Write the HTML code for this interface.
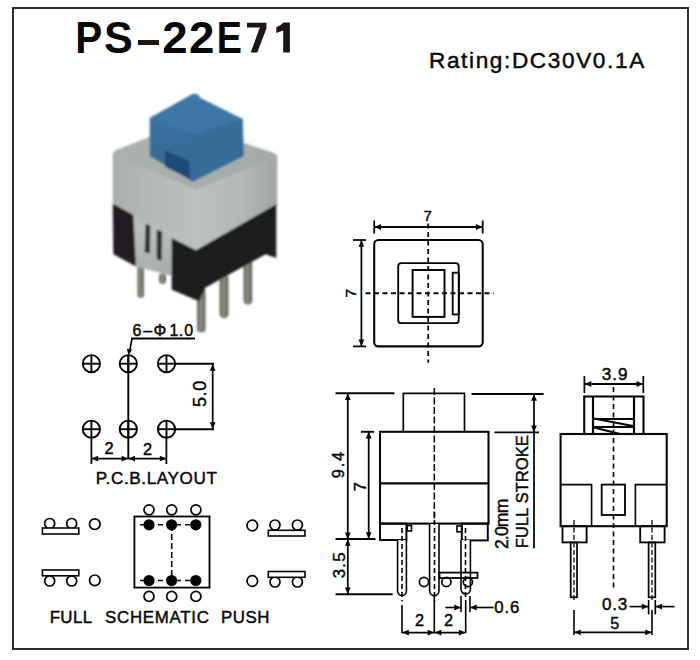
<!DOCTYPE html>
<html><head><meta charset="utf-8"><style>
html,body{margin:0;padding:0;background:#fff;}
body{width:700px;height:660px;overflow:hidden;}
svg{display:block;}
text{font-family:"Liberation Sans",sans-serif;fill:#080808;}
</style></head><body>
<svg width="700" height="660" viewBox="0 0 700 660">
<rect x="13" y="8" width="675" height="641" fill="none" stroke="#302c29" stroke-width="2"/>
<text transform="translate(75.24,52.6) scale(0.920,1)" x="0" y="0" font-size="44" font-weight="bold" fill="#1c1714">P</text>
<text transform="translate(104.04,52.6) scale(0.981,1)" x="0" y="0" font-size="44" font-weight="bold" fill="#1c1714">S</text>
<text transform="translate(162.22,52.6) scale(1.038,1)" x="0" y="0" font-size="44" font-weight="bold" fill="#1c1714">2</text>
<text transform="translate(188.92,52.6) scale(1.038,1)" x="0" y="0" font-size="44" font-weight="bold" fill="#1c1714">2</text>
<text transform="translate(216.73,52.6) scale(0.858,1)" x="0" y="0" font-size="44" font-weight="bold" fill="#1c1714">E</text>
<rect x="138" y="40" width="21" height="5" fill="#1c1714"/>
<polygon points="247,22.7 266.4,22.7 266.4,28.6 257.3,52.6 250.7,52.6 259.8,27.6 247,27.6" fill="#1c1714"/>
<polygon points="276.3,27.3 280.5,25 283.5,22.6 289.9,22.6 289.9,52.6 283.2,52.6 283.2,30.4 276.3,32.9" fill="#1c1714"/>
<text x="429.0" y="68.1" font-size="22.6" text-anchor="start" font-weight="normal" letter-spacing="1.62" stroke="#080808" stroke-width="0.45">Rating:DC30V0.1A</text>
<defs>
<linearGradient id="gtop" x1="0" y1="0" x2="1" y2="0"><stop offset="0" stop-color="#aab1b0"/><stop offset="1" stop-color="#a4aba9"/></linearGradient>
<linearGradient id="gmid" gradientUnits="userSpaceOnUse" x1="0" y1="236" x2="0" y2="276"><stop offset="0" stop-color="#b7bdbc"/><stop offset="1" stop-color="#a5acaa"/></linearGradient>
<linearGradient id="gl" x1="0" y1="0" x2="1" y2="0"><stop offset="0" stop-color="#a8aead"/><stop offset="0.6" stop-color="#b5bcba"/><stop offset="1" stop-color="#bac1c0"/></linearGradient>
<linearGradient id="gr" x1="0" y1="0" x2="1" y2="0"><stop offset="0" stop-color="#bcc2c1"/><stop offset="0.6" stop-color="#b1b8b6"/><stop offset="1" stop-color="#a0a6a5"/></linearGradient>
<linearGradient id="pin" x1="0" y1="0" x2="1" y2="0"><stop offset="0" stop-color="#62625a"/><stop offset="0.45" stop-color="#8e8e84"/><stop offset="1" stop-color="#5e5e56"/></linearGradient>
<linearGradient id="capl" x1="0" y1="0" x2="0" y2="1"><stop offset="0" stop-color="#3b719f"/><stop offset="1" stop-color="#356894"/></linearGradient>
<filter id="bl" x="-5%" y="-5%" width="110%" height="110%"><feGaussianBlur stdDeviation="0.85"/></filter>
</defs>
<g filter="url(#bl)">
<rect x="137.5" y="264" width="6.5" height="34" rx="3" fill="url(#pin)"/>
<rect x="159" y="273" width="7" height="11" rx="3.5" fill="url(#pin)"/>
<rect x="197" y="288" width="8.5" height="44.5" rx="4" fill="url(#pin)"/>
<rect x="219.5" y="274" width="9" height="44.3" rx="4.5" fill="url(#pin)"/>
<rect x="243.5" y="258" width="8.7" height="46.7" rx="4.3" fill="url(#pin)"/>
<path d="M113,156 Q113,151 117,150 L150,137 L243,143 L273,153 Q277,154 277,158 L196,190 Z" fill="url(#gtop)" stroke="url(#gtop)" stroke-width="0.6"/>
<path d="M113,156 L196,190 L196,251 L172,238 L172,276 L135,266 L133,215 L113,204 Z" fill="url(#gl)" stroke="url(#gl)" stroke-width="0.6"/>
<polygon points="133,214 172.5,236 172.5,275 162,272 137,264 133.7,255" fill="url(#gmid)"/>
<path d="M196,190 L277,158 L277,206 L196,251 Z" fill="url(#gr)" stroke="url(#gr)" stroke-width="0.6"/>
<polygon points="113,204 133,215 135.6,266 113.6,254" fill="#231d20" stroke="#231d20" stroke-width="0.6"/>
<polygon points="146,224 150,226 149.5,253 145,252" fill="#2e2a2a" stroke="#2e2a2a" stroke-width="0.6"/>
<polygon points="157,230.2 161.8,231.8 161.3,260.4 157,258.8" fill="#2e2a2a" stroke="#2e2a2a" stroke-width="0.6"/>
<polygon points="172,238.5 196,250.5 276,204.7 276,257.5 265.5,254 205,287.5 199,301 172,289.4" fill="#1f1a1c" stroke="#1f1a1c" stroke-width="0.6"/>
<polygon points="150,118 193,94 198,94.5 200,98 236,116 242.5,119 193,134" fill="#3e77a6" stroke="#3e77a6" stroke-width="0.6"/>
<polygon points="150,118 193,134 193,181.5 150,156" fill="url(#capl)" stroke="url(#capl)" stroke-width="0.6"/>
<polygon points="193,134 242.5,119 243.5,156 193,181.5" fill="#366d98" stroke="#366d98" stroke-width="0.6"/>
<polygon points="165,150 189,161 190,179 165,167" fill="#17436e" opacity="0.75"/>
</g>

<circle cx="91.4" cy="363.7" r="8.6" fill="none" stroke="#050505" stroke-width="1.95"/>
<line x1="82.80000000000001" y1="363.7" x2="100.0" y2="363.7" stroke="#050505" stroke-width="1.89"/>
<line x1="91.4" y1="355.09999999999997" x2="91.4" y2="372.3" stroke="#050505" stroke-width="1.89"/>
<circle cx="128.3" cy="363.7" r="8.6" fill="none" stroke="#050505" stroke-width="1.95"/>
<line x1="119.70000000000002" y1="363.7" x2="136.9" y2="363.7" stroke="#050505" stroke-width="1.89"/>
<line x1="128.3" y1="355.09999999999997" x2="128.3" y2="372.3" stroke="#050505" stroke-width="1.89"/>
<circle cx="166.5" cy="363.7" r="8.6" fill="none" stroke="#050505" stroke-width="1.95"/>
<line x1="157.9" y1="363.7" x2="175.1" y2="363.7" stroke="#050505" stroke-width="1.89"/>
<line x1="166.5" y1="355.09999999999997" x2="166.5" y2="372.3" stroke="#050505" stroke-width="1.89"/>
<circle cx="91.4" cy="429.2" r="8.6" fill="none" stroke="#050505" stroke-width="1.95"/>
<line x1="82.80000000000001" y1="429.2" x2="100.0" y2="429.2" stroke="#050505" stroke-width="1.89"/>
<line x1="91.4" y1="420.59999999999997" x2="91.4" y2="437.8" stroke="#050505" stroke-width="1.89"/>
<circle cx="128.3" cy="429.2" r="8.6" fill="none" stroke="#050505" stroke-width="1.95"/>
<line x1="119.70000000000002" y1="429.2" x2="136.9" y2="429.2" stroke="#050505" stroke-width="1.89"/>
<line x1="128.3" y1="420.59999999999997" x2="128.3" y2="437.8" stroke="#050505" stroke-width="1.89"/>
<circle cx="166.5" cy="429.2" r="8.6" fill="none" stroke="#050505" stroke-width="1.95"/>
<line x1="157.9" y1="429.2" x2="175.1" y2="429.2" stroke="#050505" stroke-width="1.89"/>
<line x1="166.5" y1="420.59999999999997" x2="166.5" y2="437.8" stroke="#050505" stroke-width="1.89"/>
<text x="132.6 143.2 153.6 169.6 178.7 184.2" y="335.7" font-size="16" stroke="#080808" stroke-width="0.45">6&#8211;&#934;1.0</text>
<line x1="131" y1="338.5" x2="195" y2="338.5" stroke="#050505" stroke-width="1.76"/>
<line x1="132" y1="338.5" x2="129.5" y2="352" stroke="#050505" stroke-width="1.62"/>
<polygon points="128.5,355.5 126.89,348.69 132.04,349.46" fill="#050505"/>
<line x1="128.3" y1="355" x2="128.3" y2="458.6" stroke="#050505" stroke-width="1.89"/>
<line x1="175" y1="363.7" x2="214" y2="363.7" stroke="#050505" stroke-width="1.89"/>
<line x1="175" y1="429.2" x2="214" y2="429.2" stroke="#050505" stroke-width="1.89"/>
<line x1="212.7" y1="364" x2="212.7" y2="429" stroke="#050505" stroke-width="1.76"/>
<polygon points="212.7,364.2 215.60,370.70 209.80,370.70" fill="#050505"/>
<polygon points="212.7,428.7 209.80,422.20 215.60,422.20" fill="#050505"/>
<text x="206.0" y="407.0" font-size="17.86" text-anchor="start" font-weight="normal" transform="rotate(-90 206.0 407.0)" letter-spacing="0.65" stroke="#080808" stroke-width="0.45">5.0</text>
<line x1="91.4" y1="437.8" x2="91.4" y2="464" stroke="#050505" stroke-width="1.76"/>
<line x1="166.4" y1="437.8" x2="166.4" y2="464" stroke="#050505" stroke-width="1.76"/>
<line x1="91.4" y1="458.6" x2="166.4" y2="458.6" stroke="#050505" stroke-width="1.76"/>
<polygon points="91.6,458.6 98.10,455.70 98.10,461.50" fill="#050505"/>
<polygon points="128.1,458.6 121.60,461.50 121.60,455.70" fill="#050505"/>
<polygon points="128.5,458.6 135.00,455.70 135.00,461.50" fill="#050505"/>
<polygon points="166.3,458.6 159.80,461.50 159.80,455.70" fill="#050505"/>
<text x="104.5" y="453.9" font-size="16.43" text-anchor="start" font-weight="normal" stroke="#080808" stroke-width="0.45">2</text>
<text x="142.9" y="455.0" font-size="16.29" text-anchor="start" font-weight="normal" stroke="#080808" stroke-width="0.45">2</text>
<text x="95.75" y="484.3" font-size="17.14" text-anchor="start" font-weight="normal" letter-spacing="0.6" stroke="#080808" stroke-width="0.45">P.C.B.LAYOUT</text>
<circle cx="49.7" cy="523.5" r="5" fill="none" stroke="#050505" stroke-width="1.72"/>
<circle cx="71.7" cy="523.5" r="5" fill="none" stroke="#050505" stroke-width="1.72"/>
<rect x="42.4" y="528" width="36.4" height="6" fill="#fff" stroke="#050505" stroke-width="1.6"/>
<circle cx="94.8" cy="524.2" r="5.3" fill="none" stroke="#050505" stroke-width="1.72"/>
<circle cx="49.7" cy="581" r="5" fill="none" stroke="#050505" stroke-width="1.72"/>
<circle cx="71.7" cy="581" r="5" fill="none" stroke="#050505" stroke-width="1.72"/>
<rect x="42.4" y="570" width="36.4" height="5.7999999999999545" fill="#fff" stroke="#050505" stroke-width="1.6"/>
<circle cx="94.8" cy="580.3" r="5.3" fill="none" stroke="#050505" stroke-width="1.72"/>
<circle cx="275" cy="525" r="5" fill="none" stroke="#050505" stroke-width="1.72"/>
<circle cx="297.4" cy="525" r="5" fill="none" stroke="#050505" stroke-width="1.72"/>
<rect x="268.3" y="530.3" width="36.69999999999999" height="5.7000000000000455" fill="#fff" stroke="#050505" stroke-width="1.6"/>
<circle cx="252.3" cy="525.5" r="5.3" fill="none" stroke="#050505" stroke-width="1.72"/>
<circle cx="275" cy="582" r="5" fill="none" stroke="#050505" stroke-width="1.72"/>
<circle cx="297.4" cy="582" r="5" fill="none" stroke="#050505" stroke-width="1.72"/>
<rect x="268.3" y="571.5" width="36.69999999999999" height="5.7999999999999545" fill="#fff" stroke="#050505" stroke-width="1.6"/>
<circle cx="252.3" cy="581" r="5.3" fill="none" stroke="#050505" stroke-width="1.72"/>
<rect x="134.4" y="516.5" width="75.10" height="71.10" rx="0" fill="none" stroke="#050505" stroke-width="1.84"/>
<circle cx="149" cy="509.8" r="5" fill="none" stroke="#050505" stroke-width="1.72"/>
<circle cx="149" cy="596.4" r="5" fill="none" stroke="#050505" stroke-width="1.72"/>
<circle cx="171.7" cy="509.8" r="5" fill="none" stroke="#050505" stroke-width="1.72"/>
<circle cx="171.7" cy="596.4" r="5" fill="none" stroke="#050505" stroke-width="1.72"/>
<circle cx="195.9" cy="509.8" r="5" fill="none" stroke="#050505" stroke-width="1.72"/>
<circle cx="195.9" cy="596.4" r="5" fill="none" stroke="#050505" stroke-width="1.72"/>
<line x1="140" y1="524.8" x2="196" y2="524.8" stroke="#050505" stroke-width="1.55" stroke-dasharray="5,4"/>
<line x1="140" y1="580.5" x2="196" y2="580.5" stroke="#050505" stroke-width="1.55" stroke-dasharray="5,4"/>
<line x1="171.7" y1="525" x2="171.7" y2="580" stroke="#050505" stroke-width="1.55" stroke-dasharray="6,3"/>
<circle cx="149" cy="524.8" r="5.6" fill="#050505"/>
<circle cx="149" cy="580.5" r="5.6" fill="#050505"/>
<circle cx="171.6" cy="524.8" r="5.6" fill="#050505"/>
<circle cx="171.6" cy="580.5" r="5.6" fill="#050505"/>
<circle cx="195.8" cy="524.8" r="5.6" fill="#050505"/>
<circle cx="195.8" cy="580.5" r="5.6" fill="#050505"/>
<text x="49.7" y="623.2" font-size="16.86" text-anchor="start" font-weight="normal" letter-spacing="0.37" stroke="#080808" stroke-width="0.45">FULL</text>
<text x="105.0" y="623.2" font-size="16.86" text-anchor="start" font-weight="normal" letter-spacing="0.73" stroke="#080808" stroke-width="0.45">SCHEMATIC</text>
<text x="221.0" y="623.2" font-size="16.86" text-anchor="start" font-weight="normal" letter-spacing="0.53" stroke="#080808" stroke-width="0.45">PUSH</text>
<rect x="374.2" y="240" width="108.50" height="106.40" rx="4.2" fill="none" stroke="#050505" stroke-width="2.07"/>
<rect x="398.2" y="263.2" width="60.50" height="60.00" rx="3" fill="none" stroke="#050505" stroke-width="1.84"/>
<rect x="412.6" y="270" width="31.90" height="46.90" rx="0" fill="none" stroke="#050505" stroke-width="1.95"/>
<rect x="452.7" y="272.7" width="6.30" height="41.70" rx="0" fill="none" stroke="#050505" stroke-width="1.84"/>
<line x1="428.2" y1="223.6" x2="428.2" y2="362.7" stroke="#050505" stroke-width="1.76" stroke-dasharray="5,3.5"/>
<line x1="365.5" y1="293.2" x2="493.6" y2="293.2" stroke="#050505" stroke-width="1.89" stroke-dasharray="5,3.5"/>
<line x1="374.2" y1="232" x2="482.7" y2="226.4" stroke="#050505" stroke-width="0.00"/>
<line x1="374.2" y1="227" x2="482.7" y2="227" stroke="#050505" stroke-width="1.76"/>
<polygon points="374.5,227 381.00,224.10 381.00,229.90" fill="#050505"/>
<polygon points="482.4,227 475.90,229.90 475.90,224.10" fill="#050505"/>
<line x1="374.2" y1="220.5" x2="374.2" y2="233.5" stroke="#050505" stroke-width="1.76"/>
<line x1="482.7" y1="220.5" x2="482.7" y2="233.5" stroke="#050505" stroke-width="1.76"/>
<text x="423.6" y="221.2" font-size="15.0" text-anchor="start" font-weight="normal" stroke="#080808" stroke-width="0.45">7</text>
<line x1="361.4" y1="240" x2="361.4" y2="346.4" stroke="#050505" stroke-width="1.76"/>
<polygon points="361.4,240.3 364.30,246.80 358.50,246.80" fill="#050505"/>
<polygon points="361.4,346.1 358.50,339.60 364.30,339.60" fill="#050505"/>
<line x1="353" y1="240" x2="366" y2="240" stroke="#050505" stroke-width="1.76"/>
<line x1="353" y1="346.4" x2="366" y2="346.4" stroke="#050505" stroke-width="1.76"/>
<text x="356.0" y="297.5" font-size="15.29" text-anchor="start" font-weight="normal" transform="rotate(-90 356.0 297.5)" stroke="#080808" stroke-width="0.45">7</text>
<line x1="335.5" y1="393.3" x2="394.5" y2="393.3" stroke="#050505" stroke-width="1.89"/>
<line x1="471.5" y1="394" x2="543.6" y2="394" stroke="#050505" stroke-width="1.89"/>
<polyline points="403.3,431.8 403.3,393.3 464.5,393.3 464.5,431.8" fill="none" stroke="#050505" stroke-width="1.7"/>
<rect x="380" y="431.8" width="108.50" height="91.80" rx="0" fill="none" stroke="#050505" stroke-width="2.07"/>
<line x1="380" y1="483.3" x2="488.5" y2="483.3" stroke="#050505" stroke-width="2.16"/>
<line x1="494.5" y1="432.4" x2="539" y2="432.4" stroke="#050505" stroke-width="1.89"/>
<line x1="534" y1="394" x2="534" y2="548.3" stroke="#050505" stroke-width="1.76"/>
<polygon points="534,394.3 536.90,400.80 531.10,400.80" fill="#050505"/>
<polygon points="534,432 531.10,425.50 536.90,425.50" fill="#050505"/>
<text x="528.3" y="548.1" font-size="16.29" text-anchor="start" font-weight="normal" transform="rotate(-90 528.3 548.1)" letter-spacing="0.23" stroke="#080808" stroke-width="0.45">FULL STROKE</text>
<text x="508.4" y="549.1" font-size="17.57" text-anchor="start" font-weight="normal" transform="rotate(-90 508.4 549.1)" letter-spacing="-0.82" stroke="#080808" stroke-width="0.45">2.0mm</text>
<line x1="347.8" y1="393.3" x2="347.8" y2="594.2" stroke="#050505" stroke-width="1.76"/>
<polygon points="347.8,393.6 350.70,400.10 344.90,400.10" fill="#050505"/>
<polygon points="347.8,539 344.90,532.50 350.70,532.50" fill="#050505"/>
<polygon points="347.8,539.3 350.70,545.80 344.90,545.80" fill="#050505"/>
<polygon points="347.8,594 344.90,587.50 350.70,587.50" fill="#050505"/>
<line x1="368.7" y1="431.8" x2="368.7" y2="539" stroke="#050505" stroke-width="1.76"/>
<polygon points="368.7,432.1 371.60,438.60 365.80,438.60" fill="#050505"/>
<polygon points="368.7,538.8 365.80,532.30 371.60,532.30" fill="#050505"/>
<line x1="361" y1="431.8" x2="374" y2="431.8" stroke="#050505" stroke-width="1.89"/>
<line x1="335.5" y1="539" x2="375.5" y2="539" stroke="#050505" stroke-width="1.89"/>
<line x1="335.5" y1="594.2" x2="392.7" y2="594.2" stroke="#050505" stroke-width="1.89"/>
<text x="344.1" y="478.3" font-size="16.43" text-anchor="start" font-weight="normal" transform="rotate(-90 344.1 478.3)" letter-spacing="1.8" stroke="#080808" stroke-width="0.45">9.4</text>
<text x="366.1" y="491.5" font-size="16.86" text-anchor="start" font-weight="normal" transform="rotate(-90 366.1 491.5)" stroke="#080808" stroke-width="0.45">7</text>
<text x="344.7" y="578.3" font-size="16.86" text-anchor="start" font-weight="normal" transform="rotate(-90 344.7 578.3)" letter-spacing="1.3" stroke="#080808" stroke-width="0.45">3.5</text>
<line x1="434.3" y1="388" x2="434.3" y2="596" stroke="#050505" stroke-width="1.49" stroke-dasharray="7,2.5"/>
<line x1="434.3" y1="596" x2="434.3" y2="633" stroke="#050505" stroke-width="1.62"/>
<rect x="380" y="523.6" width="26.40" height="16.40" rx="0" fill="none" stroke="#050505" stroke-width="1.95"/>
<rect x="407.3" y="525.5" width="4.20" height="5.50" rx="0" fill="none" stroke="#050505" stroke-width="1.61"/>
<rect x="461.8" y="523.6" width="26.00" height="16.80" rx="0" fill="none" stroke="#050505" stroke-width="1.95"/>
<rect x="457" y="526" width="4.80" height="5.80" rx="0" fill="none" stroke="#050505" stroke-width="1.61"/>
<path d="M397.6,540 L397.6,591.1 A4.399999999999977,4.399999999999977 0 0 0 406.4,591.1 L406.4,540" fill="#fff" stroke="#050505" stroke-width="1.6"/>
<line x1="402" y1="528" x2="402" y2="601.5" stroke="#050505" stroke-width="1.62" stroke-dasharray="5,3"/>
<path d="M429.6,524 L429.6,590.8 A4.699999999999989,4.699999999999989 0 0 0 439,590.8 L439,524" fill="#fff" stroke="#050505" stroke-width="1.6"/>
<line x1="434.5" y1="512" x2="434.5" y2="601.5" stroke="#050505" stroke-width="1.62" stroke-dasharray="5,3"/>
<path d="M461,540 L461,589.3 A4.699999999999989,4.699999999999989 0 0 0 470.4,589.3 L470.4,540" fill="#fff" stroke="#050505" stroke-width="1.6"/>
<line x1="465.5" y1="528" x2="465.5" y2="600" stroke="#050505" stroke-width="1.62" stroke-dasharray="5,3"/>
<rect x="439.5" y="572.6" width="38" height="5.4" fill="none" stroke="#050505" stroke-width="1.8"/>
<circle cx="424" cy="582" r="4.6" fill="none" stroke="#050505" stroke-width="1.72"/>
<circle cx="446.4" cy="582" r="4.6" fill="none" stroke="#050505" stroke-width="1.72"/>
<circle cx="467.9" cy="582" r="4.6" fill="none" stroke="#050505" stroke-width="1.72"/>
<line x1="402" y1="605" x2="402" y2="633" stroke="#050505" stroke-width="1.62"/>
<line x1="465.7" y1="600" x2="465.7" y2="633" stroke="#050505" stroke-width="1.62"/>
<line x1="402" y1="632.6" x2="465.7" y2="632.6" stroke="#050505" stroke-width="1.76"/>
<polygon points="402.3,632.6 408.80,629.70 408.80,635.50" fill="#050505"/>
<polygon points="434.2,632.6 427.70,635.50 427.70,629.70" fill="#050505"/>
<polygon points="434.8,632.6 441.30,629.70 441.30,635.50" fill="#050505"/>
<polygon points="465.4,632.6 458.90,635.50 458.90,629.70" fill="#050505"/>
<text x="415.0" y="625.5" font-size="16.29" text-anchor="start" font-weight="normal" stroke="#080808" stroke-width="0.45">2</text>
<text x="444.0" y="625.5" font-size="16.29" text-anchor="start" font-weight="normal" stroke="#080808" stroke-width="0.45">2</text>
<line x1="461" y1="596" x2="461" y2="612" stroke="#050505" stroke-width="1.62"/>
<line x1="470" y1="596" x2="470" y2="612" stroke="#050505" stroke-width="1.62"/>
<line x1="445.4" y1="607.5" x2="461" y2="607.5" stroke="#050505" stroke-width="1.62"/>
<polygon points="460.8,607.5 454.30,610.40 454.30,604.60" fill="#050505"/>
<line x1="470" y1="607.5" x2="493.6" y2="607.5" stroke="#050505" stroke-width="1.62"/>
<polygon points="470.2,607.5 476.70,604.60 476.70,610.40" fill="#050505"/>
<text x="494.25" y="612.75" font-size="16.79" text-anchor="start" font-weight="normal" letter-spacing="0.88" stroke="#080808" stroke-width="0.45">0.6</text>
<text x="601.8" y="379.5" font-size="17.14" text-anchor="start" font-weight="normal" letter-spacing="1.0" stroke="#080808" stroke-width="0.45">3.9</text>
<line x1="584.4" y1="384" x2="643.3" y2="384" stroke="#050505" stroke-width="1.76"/>
<polygon points="584.7,384 591.20,381.10 591.20,386.90" fill="#050505"/>
<polygon points="643,384 636.50,386.90 636.50,381.10" fill="#050505"/>
<line x1="584.4" y1="376" x2="584.4" y2="393" stroke="#050505" stroke-width="1.76"/>
<line x1="643.3" y1="376" x2="643.3" y2="393" stroke="#050505" stroke-width="1.76"/>
<rect x="584.2" y="396.5" width="59.30" height="37.50" rx="0" fill="none" stroke="#050505" stroke-width="2.07"/>
<line x1="593" y1="396.5" x2="593" y2="434" stroke="#050505" stroke-width="2.16"/>
<line x1="634" y1="396.5" x2="634" y2="434" stroke="#050505" stroke-width="2.16"/>
<line x1="593" y1="419" x2="634" y2="419" stroke="#050505" stroke-width="1.89"/>
<line x1="593" y1="427" x2="634" y2="427" stroke="#050505" stroke-width="1.89"/>
<line x1="594" y1="418.5" x2="633" y2="426" stroke="#050505" stroke-width="2.16"/>
<line x1="594" y1="427.5" x2="620" y2="434" stroke="#050505" stroke-width="2.16"/>
<rect x="560.6" y="434" width="106.10" height="92.20" rx="0" fill="none" stroke="#050505" stroke-width="2.07"/>
<polyline points="561,484.6 591.6,484.6 591.6,526.2" fill="none" stroke="#050505" stroke-width="1.6"/>
<polyline points="635.4,526.2 635.4,484.6 666.7,484.6" fill="none" stroke="#050505" stroke-width="1.6"/>
<rect x="601.7" y="484.6" width="23.30" height="30.40" rx="0" fill="none" stroke="#050505" stroke-width="1.84"/>
<rect x="562.5" y="526.2" width="24.10" height="16.20" rx="0" fill="none" stroke="#050505" stroke-width="1.84"/>
<rect x="640.2" y="526.2" width="24.40" height="16.20" rx="0" fill="none" stroke="#050505" stroke-width="1.84"/>
<rect x="570.7" y="542.4" width="6.30" height="54.90" rx="0" fill="none" stroke="#050505" stroke-width="1.72"/>
<rect x="648.6" y="542.4" width="6.70" height="54.90" rx="0" fill="none" stroke="#050505" stroke-width="1.72"/>
<line x1="574" y1="520" x2="574" y2="600" stroke="#050505" stroke-width="1.28" stroke-dasharray="5,2.5"/>
<line x1="652" y1="520" x2="652" y2="600" stroke="#050505" stroke-width="1.28" stroke-dasharray="5,2.5"/>
<line x1="613.5" y1="387" x2="613.5" y2="588" stroke="#050505" stroke-width="1.62" stroke-dasharray="5,3.5"/>
<text x="601.9" y="610.0" font-size="17.0" text-anchor="start" font-weight="normal" letter-spacing="0.85" stroke="#080808" stroke-width="0.45">0.3</text>
<line x1="629.5" y1="606.6" x2="648.6" y2="606.6" stroke="#050505" stroke-width="1.62"/>
<polygon points="648.4,606.6 641.90,609.50 641.90,603.70" fill="#050505"/>
<line x1="655.3" y1="606.6" x2="674.6" y2="606.6" stroke="#050505" stroke-width="1.62"/>
<polygon points="655.5,606.6 662.00,603.70 662.00,609.50" fill="#050505"/>
<line x1="648.6" y1="600" x2="648.6" y2="614.5" stroke="#050505" stroke-width="1.62"/>
<line x1="655.3" y1="600" x2="655.3" y2="614.5" stroke="#050505" stroke-width="1.62"/>
<line x1="574" y1="610" x2="574" y2="635" stroke="#050505" stroke-width="1.62"/>
<line x1="652" y1="610" x2="652" y2="635" stroke="#050505" stroke-width="1.62"/>
<line x1="574" y1="632.3" x2="652" y2="632.3" stroke="#050505" stroke-width="1.76"/>
<polygon points="574.3,632.3 580.80,629.40 580.80,635.20" fill="#050505"/>
<polygon points="651.7,632.3 645.20,635.20 645.20,629.40" fill="#050505"/>
<text x="610.2" y="629.3" font-size="16.14" text-anchor="start" font-weight="normal" stroke="#080808" stroke-width="0.45">5</text>
</svg></body></html>
